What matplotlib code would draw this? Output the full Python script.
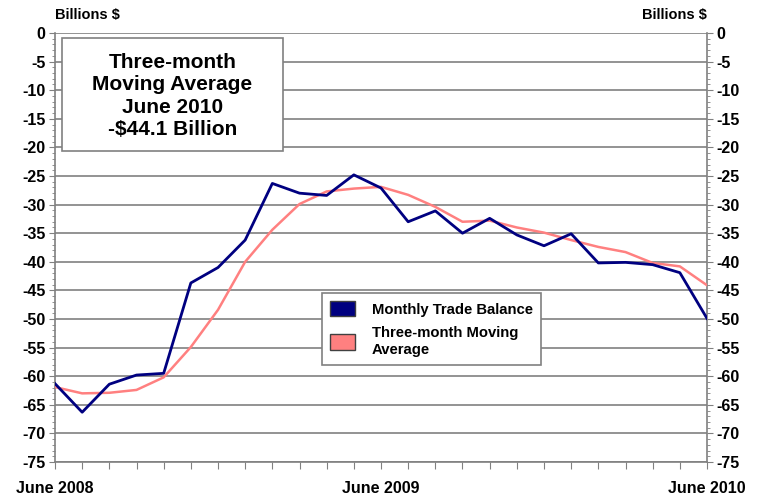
import matplotlib.pyplot as plt
from matplotlib.patches import Patch, Rectangle
from matplotlib.ticker import MultipleLocator, FuncFormatter

plt.rcParams['font.family'] = ['Liberation Sans', 'DejaVu Sans']

# June 2008 .. June 2010, monthly
months = list(range(25))
monthly_balance = [-61.3, -66.3, -61.4, -59.8, -59.5, -43.7, -41.0, -36.2, -26.3, -28.0,
                   -28.4, -24.8, -27.1, -33.0, -31.1, -35.0, -32.4, -35.3, -37.2, -35.1,
                   -40.2, -40.1, -40.5, -41.9, -49.9]
moving_avg = [-61.9, -63.0, -62.9, -62.4, -60.2, -54.9, -48.4, -40.0, -34.4, -29.9,
              -27.7, -27.2, -26.9, -28.3, -30.4, -33.0, -32.8, -34.0, -34.9, -36.2,
              -37.4, -38.3, -40.2, -40.8, -44.1]
tick_labels = {0: "June 2008", 12: "June 2009", 24: "June 2010"}

fig = plt.figure(figsize=(7.59, 4.99), dpi=100)
ax = fig.add_axes([55/759, 1-462/499, (707-55)/759, (462-33)/499])

ax.plot(months, moving_avg, color="#ff8080", lw=1.8, zorder=3)
ax.plot(months, monthly_balance, color="#000080", lw=2.0, zorder=4)

ax.set_xlim(0, 24)
ax.set_ylim(-75, 0)
ax.yaxis.set_major_locator(MultipleLocator(5))
ax.yaxis.set_minor_locator(MultipleLocator(1))
ax.yaxis.set_major_formatter(FuncFormatter(lambda v, p: "%d" % round(v)))
ax.grid(axis="y", color="#808080", lw=1.2)
ax.set_axisbelow(True)

for s in ["left", "bottom", "right"]:
    ax.spines[s].set_color("#808080")
    ax.spines[s].set_linewidth(1.2)
ax.spines["top"].set_visible(False)

ax.set_xticks(months)
ax.set_xticklabels([tick_labels.get(m, "") for m in months], fontsize=11.5, fontweight="bold")
ax.tick_params(axis="x", length=5, color="#808080", pad=9)
ax.tick_params(axis="y", which="both", right=True, labelright=True, color="#808080")
ax.tick_params(axis="y", which="major", length=4, labelsize=11.5, pad=3)
ax.tick_params(axis="y", which="minor", length=2)
for t in ax.yaxis.get_major_ticks():
    t.label1.set_fontweight("bold")
    t.label2.set_fontweight("bold")

fig.text(55/759, 1-15/499, "Billions $", fontsize=10.5, fontweight="bold", va="center", ha="left")
fig.text(707/759, 1-15/499, "Billions $", fontsize=10.5, fontweight="bold", va="center", ha="right")

# annotation box
ax.add_patch(Rectangle((62/759, 1-151/499), (283-62)/759, (151-38)/499, transform=fig.transFigure,
                       facecolor="white", edgecolor="#808080", lw=1.2, zorder=4))
fig.text((62+283)/2/759, 1-96/499, "Three-month\nMoving Average\nJune 2010\n-$44.1 Billion",
         fontsize=15, fontweight="bold", ha="center", va="center", linespacing=1.22, zorder=5)

handles = [Patch(facecolor="#000080", edgecolor="#404040"),
           Patch(facecolor="#ff8080", edgecolor="#404040")]
leg = ax.legend(handles, ["Monthly Trade Balance", "Three-month Moving\nAverage"],
                loc="upper left", bbox_to_anchor=((322-55)/652, 1-(293-33)/429),
                prop={"weight": "bold", "size": 10.7}, frameon=True, fancybox=False,
                edgecolor="#808080", framealpha=1, borderpad=0.55, handlelength=1.7,
                handleheight=1.2, handletextpad=1.1, labelspacing=0.65, borderaxespad=0)
leg.get_frame().set_linewidth(1.2)
leg.set_zorder(6)
for t in leg.get_texts():
    t.set_multialignment("left")

fig.savefig("out.png", dpi=100)
